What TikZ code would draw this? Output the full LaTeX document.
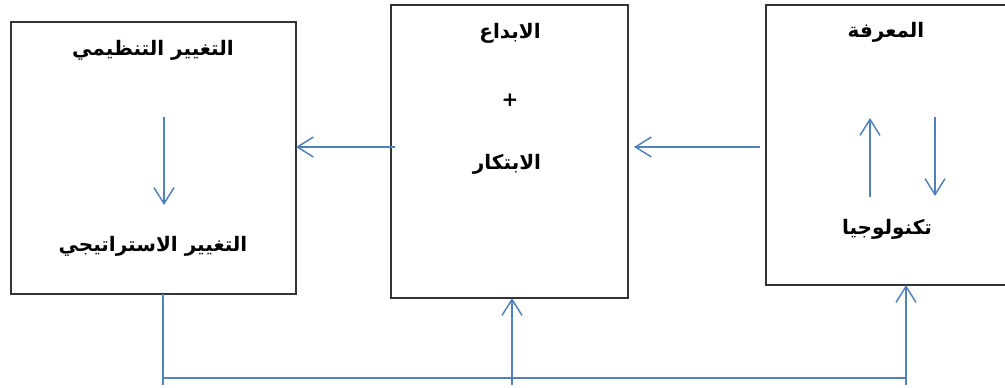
\documentclass[tikz,border=0pt]{standalone}
\usepackage{fontspec}
\newfontfamily\arabicfont[Script=Arabic]{DejaVu Sans}
\TeXXeTstate=1
\usetikzlibrary{arrows.meta}
\definecolor{linkblue}{RGB}{79,129,189}
\tikzset{
  box/.style={draw=black!80, line width=0.9pt, inner sep=0pt, outer sep=0pt},
  artext/.style={font=\arabicfont\bfseries\fontsize{15}{18}\selectfont, inner sep=1pt},
  link/.style={draw=linkblue, line width=1.1pt},
  flow/.style={link, -{Straight Barb[length=12pt,width=15pt]}}
}
\begin{document}
\begin{tikzpicture}[x=0.75pt,y=-0.75pt]
    \clip (0,0) rectangle (1005,388);
    % boxes
    \node[box, minimum width=213.75pt, minimum height=204pt] (change) at (153.5,158) {};
    \node[box, minimum width=177.75pt, minimum height=219.75pt] (innov) at (509.5,151.5) {};
    \node[box, minimum width=183pt, minimum height=210pt] (know) at (888,145) {};
    % texts
    \node[artext] (orgchange) at (153,50) {\beginR التغيير التنظيمي\endR};
    \node[artext] (stratchange) at (153,246) {\beginR التغيير الاستراتيجي\endR};
    \node[artext] (creat) at (510,33) {\beginR الابداع\endR};
    \node[artext] (plus) at (510,100) {+};
    \node[artext] (invent) at (507,164) {\beginR الابتكار\endR};
    \node[artext] (knowl) at (886,32) {\beginR المعرفة\endR};
    \node[artext] (tech) at (887,229) {\beginR تكنولوجيا\endR};
    % inner arrows
    \coordinate (chTop) at (164,117);
    \coordinate (chBot) at (164,205);
    \draw[flow] (chTop) -- (chBot);
    \coordinate (upBot) at (870,197);
    \coordinate (upTop) at (870,118);
    \draw[flow] (upBot) -- (upTop);
    \coordinate (dnTop) at (935,117);
    \coordinate (dnBot) at (935,196);
    \draw[flow] (dnTop) -- (dnBot);
    % arrows between boxes
    \coordinate (rowA) at (0,147);
    \draw[flow, shorten <=-3pt] (innov.west |- rowA) -- (change.east |- rowA);
    \draw[flow, shorten <=4.5pt, shorten >=4.5pt] (know.west |- rowA) -- (innov.east |- rowA);
    % feedback line
    \coordinate (footL) at (163,385);
    \coordinate (footM) at (512,385);
    \coordinate (footR) at (906,385);
    \coordinate (busL) at (163,378);
    \coordinate (busR) at (906,378);
    \draw[link] (footL |- change.south) -- (footL);
    \draw[link] (busL) -- (busR);
    \draw[flow] (footM) -- (footM |- innov.south);
    \draw[flow] (footR) -- (footR |- know.south);
\end{tikzpicture}
\end{document}
